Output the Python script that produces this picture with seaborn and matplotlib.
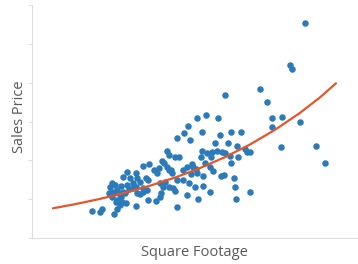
import matplotlib
matplotlib.use("Agg")

import matplotlib.pyplot as plt
import pandas as pd
import seaborn as sns

# scatter points (square footage, sales price), arbitrary units
sq_footage = [
    305, 290, 292, 260, 267, 225, 272, 282, 272, 300, 281, 316, 325,
    197, 206, 218, 188, 184, 177, 190, 202, 220, 231, 241, 228, 237,
    202, 212, 217, 222, 225, 245, 247, 250, 201, 211, 230, 231,
    167, 169, 175, 179, 162, 164, 167, 149, 143, 154, 159, 169, 171, 183,
    192, 193, 196, 191, 197, 203, 210, 213, 221, 224, 234, 235, 250, 236,
    210, 203, 195, 189, 187, 198, 177, 173, 175, 169, 165, 160, 161, 160,
    156, 148, 147, 143, 146, 140, 137, 136, 133, 136, 137, 140, 143, 133,
    136, 123, 127, 129, 121, 117, 112, 110, 109, 113, 118, 123, 125, 121,
    117, 122, 126, 116, 117, 114, 102, 100, 92, 130, 148,
    115, 112, 120, 127, 157, 163, 172, 177, 183, 187, 205, 207, 215, 238,
]
sales_price = [
    215, 173, 169, 149, 136, 143, 120, 121, 111, 116, 91, 92, 75,
    120, 123, 120, 112, 105, 100, 98, 106, 103, 106, 106, 95, 92,
    87, 86, 87, 86, 85, 89, 86, 86, 81, 81, 82, 75,
    87, 83, 81, 81, 77, 75, 71, 74, 72, 68, 70, 68, 68, 68,
    74, 71, 69, 64, 65, 62, 71, 67, 62, 63, 60, 51, 46, 39,
    46, 52, 51, 55, 43, 39, 31, 50, 47, 51, 56, 55, 45, 41,
    37, 38, 48, 46, 60, 56, 60, 65, 55, 51, 45, 44, 50, 50,
    32, 61, 53, 49, 52, 48, 55, 51, 45, 46, 45, 46, 45, 41,
    38, 36, 35, 36, 29, 24, 29, 26, 27, 60, 58,
    53, 41, 33, 66, 65, 51, 65, 58, 58, 71, 75, 85, 95, 81,
]

# trend curve
trend_x = [53, 75, 100, 125, 150, 175, 200, 225, 250, 275, 300, 320, 336]
trend_y = [29.7, 33.8, 39.1, 45.2, 52.3, 60.4, 69.9, 80.9, 93.5, 108.2, 125.1, 140.6, 154.7]

y_ticks = [0, 39, 78, 116, 155, 194, 233]

points = pd.DataFrame({"sq_footage": sq_footage, "sales_price": sales_price})
trend = pd.DataFrame({"x": trend_x, "y": trend_y})

sns.set_theme(style="white")
plt.rcParams["font.family"] = ["Open Sans", "DejaVu Sans"]

fig = plt.figure(figsize=(3.58, 2.64), dpi=100)
ax = fig.add_axes([32 / 358, 26 / 264, 325 / 358, 233 / 264])

sns.scatterplot(
    data=points,
    x="sq_footage",
    y="sales_price",
    color="#2b7bba",
    s=22,
    linewidth=0,
    ax=ax,
    zorder=2,
)
sns.lineplot(data=trend, x="x", y="y", color="#e8542a", linewidth=1.6, ax=ax, zorder=3)

ax.set_xlim(32, 357)
ax.set_ylim(0, 233)
ax.set_xticks([])
ax.set_yticks(y_ticks)
ax.set_yticklabels([])
ax.tick_params(axis="y", direction="out", length=3, width=0.8, color="#e0e0e0", left=True)

for side in ["top", "right"]:
    ax.spines[side].set_visible(False)
for side in ["left", "bottom"]:
    ax.spines[side].set_color("#dddddd")
    ax.spines[side].set_linewidth(0.8)

ax.set_xlabel("Square Footage", fontsize=10.5, color="#595959", labelpad=5)
ax.set_ylabel("Sales Price", fontsize=10.5, color="#595959")
ax.yaxis.set_label_coords(-5 / 325, 0.52)

fig.savefig("out.png", dpi=100)
plt.close(fig)
